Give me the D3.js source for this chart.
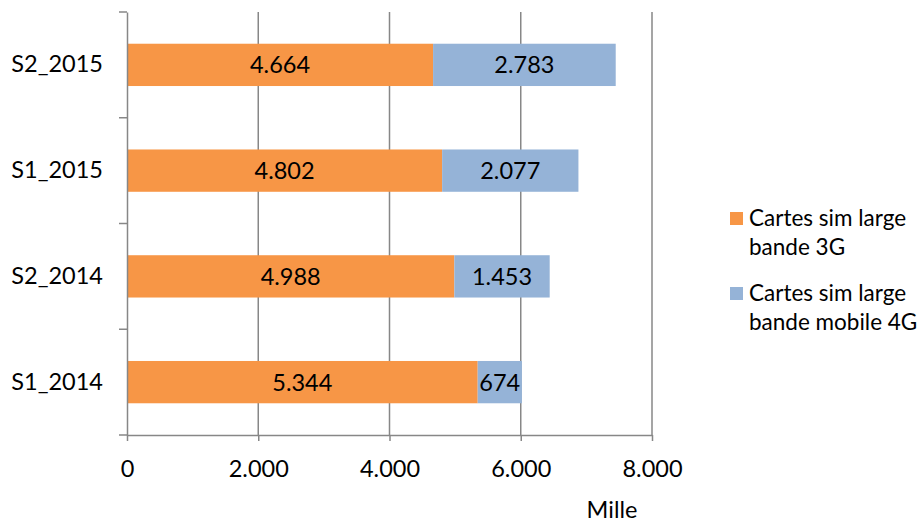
<!DOCTYPE html>
<html><head><meta charset="utf-8">
<script src="https://cdn.jsdelivr.net/npm/d3@7"></script>
<style>body{margin:0;background:#fff}svg{display:block}text{font-family:Lato,"Open Sans",sans-serif;fill:#000}</style>
</head><body>
<svg id="c" width="920" height="523"></svg>
<script>
const categories = ["S2_2015","S1_2015","S2_2014","S1_2014"];
const series3G = [4664, 4802, 4988, 5344];
const series4G = [2783, 2077, 1453, 674];
const seriesNames = ["Cartes sim large bande 3G","Cartes sim large bande mobile 4G"];
const legendLines = [["Cartes sim large","bande 3G"],["Cartes sim large","bande mobile 4G"]];
const xTicks = [0,2000,4000,6000,8000];
const colors = ["#F79646","#95B3D7"];
const axisTitle = "Mille";

const loc = d3.formatLocale({decimal:",",thousands:".",grouping:[3],currency:["",""]});
const fmt = loc.format(",.0f");
const FS = 23.5;

const svg = d3.select("#c");
const m = {l:127, t:12};
const x = d3.scaleLinear().domain([0,8000]).range([m.l, 652]);
const y = d3.scaleBand().domain(categories).range([m.t, 435]).paddingInner(0.6).paddingOuter(0.3);

// gridlines
svg.append("g").selectAll("line").data(xTicks.slice(1)).join("line")
  .attr("x1",d=>x(d)).attr("x2",d=>x(d)).attr("y1",m.t).attr("y2",435)
  .attr("stroke","#878787").attr("stroke-width",1.5);

const data = categories.map((c,i)=>({c, a:series3G[i], b:series4G[i]}));
const g = svg.append("g");
data.forEach(d=>{
  g.append("rect").attr("x",x(0)).attr("y",y(d.c)).attr("width",x(d.a)-x(0)).attr("height",y.bandwidth()).attr("fill",colors[0]);
  g.append("rect").attr("x",x(d.a)).attr("y",y(d.c)).attr("width",x(d.a+d.b)-x(d.a)).attr("height",y.bandwidth()).attr("fill",colors[1]);
  g.append("text").attr("x",(x(0)+x(d.a))/2).attr("y",y(d.c)+y.bandwidth()/2).attr("dy","0.36em")
    .attr("text-anchor","middle").attr("font-size",FS).text(fmt(d.a));
  g.append("text").attr("x",(x(d.a)+x(d.a+d.b))/2).attr("y",y(d.c)+y.bandwidth()/2).attr("dy","0.36em")
    .attr("text-anchor","middle").attr("font-size",FS).text(fmt(d.b));
});

// x axis
const xa = svg.append("g").attr("transform","translate(0,435)")
  .call(d3.axisBottom(x).tickValues(xTicks).tickFormat(fmt).tickSizeInner(6).tickSizeOuter(0).tickPadding(19));
xa.select(".domain").attr("stroke","#878787").attr("stroke-width",1.5);
xa.selectAll(".tick line").attr("stroke","#878787").attr("stroke-width",1.5);
xa.selectAll("text").attr("font-size",FS).attr("font-family","Lato,'Open Sans',sans-serif");

// y axis
const ya = svg.append("g").attr("transform",`translate(${m.l},0)`)
  .call(d3.axisLeft(y).tickSize(0).tickPadding(24));
ya.select(".domain").attr("stroke","#878787").attr("stroke-width",1.5);
ya.selectAll("text").attr("font-size",FS).attr("font-family","Lato,'Open Sans',sans-serif");
// category boundary ticks
const bounds = d3.range(categories.length+1).map(i=>m.t + i*(435-m.t)/categories.length);
svg.append("g").selectAll("line").data(bounds).join("line")
  .attr("x1",m.l-8).attr("x2",m.l).attr("y1",d=>d).attr("y2",d=>d)
  .attr("stroke","#878787").attr("stroke-width",1.5);

// axis title
svg.append("text").attr("x",612).attr("y",518).attr("text-anchor","middle").attr("font-size",FS).text(axisTitle);

// legend
const lg = svg.append("g");
const ly = [212, 287];
seriesNames.forEach((n,i)=>{
  lg.append("rect").attr("x",730).attr("y",ly[i]).attr("width",13).attr("height",13).attr("fill",colors[i]);
  const t = lg.append("text").attr("x",749).attr("y",ly[i]+14).attr("font-size",22.5);
  legendLines[i].forEach((ln,j)=>t.append("tspan").attr("x",749).attr("dy",j?29:0).text(ln));
});
</script>
</body></html>
